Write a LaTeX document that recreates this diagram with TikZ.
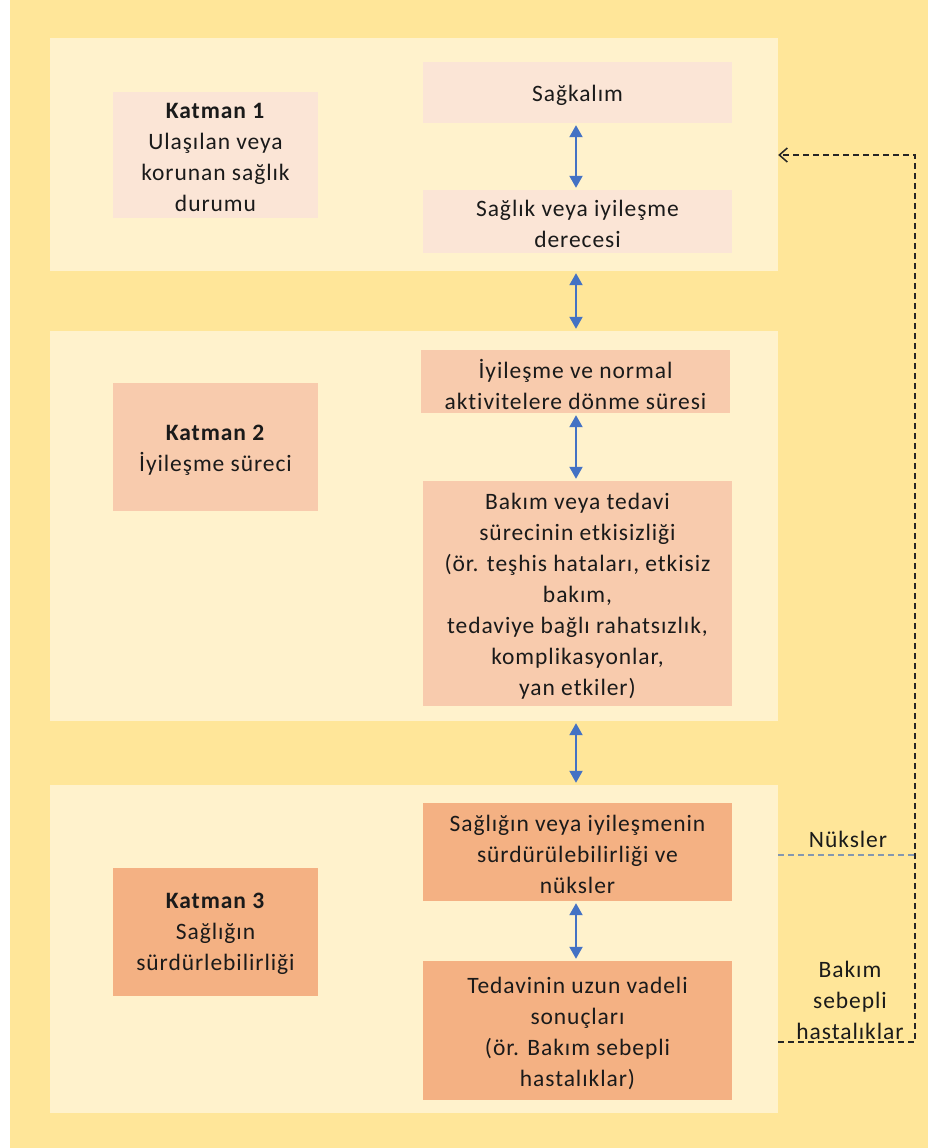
\documentclass[tikz,border=0pt]{standalone}
\usepackage{fontspec}
\setmainfont{Carlito}[LetterSpace=4,Ligatures=NoCommon]
\usetikzlibrary{arrows.meta}
\definecolor{bgyellow}{HTML}{FFE699}
\definecolor{panelc}{HTML}{FFF2CC}
\definecolor{pinkA}{HTML}{FBE5D6}
\definecolor{pinkB}{HTML}{F8CBAD}
\definecolor{pinkC}{HTML}{F4B183}
\definecolor{arrowblue}{HTML}{4472C4}
\definecolor{nukblue}{HTML}{8497B0}
\definecolor{txt}{HTML}{1A1A1A}
\begin{document}
\begin{tikzpicture}[x=1pt,y=-1pt,
  panel/.style={fill=panelc, draw=none, inner sep=0pt},
  box/.style={draw=none, inner sep=0pt, align=center, text=txt,
    font=\fontsize{23.5}{31}\selectfont},
  boxA/.style={box, fill=pinkA},
  boxB/.style={box, fill=pinkB},
  boxC/.style={box, fill=pinkC},
  lbl/.style={inner sep=0pt, align=center, text=txt, font=\fontsize{23.5}{31}\selectfont},
  dbl/.style={{Triangle[width=13pt,length=12pt]}-{Triangle[width=13pt,length=12pt]},
    draw=arrowblue, line width=2pt, shorten <=2pt, shorten >=2pt},
  dsh/.style={draw=black!85, line width=1.5pt, dash pattern=on 6pt off 4pt},
]
\useasboundingbox (0,0) rectangle (928,1148);
\fill[white] (0,0) rectangle (928,1148);
\fill[bgyellow] (10,0) rectangle (928,1148);

% panels
\node[panel, minimum width=728pt, minimum height=233pt] (p1) at (414,154.5) {};
\node[panel, minimum width=728pt, minimum height=390pt] (p2) at (414,526) {};
\node[panel, minimum width=728pt, minimum height=328pt] (p3) at (414,949) {};

% layer 1
\node[boxA, minimum width=205pt, minimum height=126pt] (k1) at (215.5,155) {};
\node[box] (k1t) at (215.5,157) {\textbf{Katman 1}\\Ulaşılan veya\\korunan  sağlık\\durumu};
\node[boxA, minimum width=309pt, minimum height=61pt] (s1) at (577.5,92.5) {};
\node[box] (s1t) at (577.5,95) {Sağkalım};
\node[boxA, minimum width=309pt, minimum height=63pt] (s2) at (577.5,221.5) {};
\node[box] (s2t) at (577.5,224) {Sağlık veya iyileşme\\derecesi};

% layer 2
\node[boxB, minimum width=205pt, minimum height=128pt] (k2) at (215.5,447) {};
\node[box] (k2t) at (215.5,450) {\textbf{Katman 2}\\İyileşme süreci};
\node[boxB, minimum width=309pt, minimum height=63pt] (s3) at (575.5,381.5) {};
\node[box] (s3t) at (575.5,384) {İyileşme ve normal\\aktivitelere dönme süresi};
\node[boxB, minimum width=309pt, minimum height=225pt] (s4) at (577.5,593.5) {};
\node[box] (s4t) at (577.5,596) {Bakım veya tedavi\\sürecinin etkisizliği\\(ör. teşhis hataları, etkisiz\\bakım,\\tedaviye bağlı rahatsızlık,\\komplikasyonlar,\\yan etkiler)};

% layer 3
\node[boxC, minimum width=205pt, minimum height=128pt] (k3) at (215.5,932) {};
\node[box] (k3t) at (215.5,934) {\textbf{Katman 3}\\Sağlığın\\sürdürlebilirliği};
\node[boxC, minimum width=309pt, minimum height=98pt] (s5) at (577.5,852) {};
\node[box] (s5t) at (577.5,854) {Sağlığın veya iyileşmenin\\sürdürülebilirliği ve\\nüksler};
\node[boxC, minimum width=309pt, minimum height=139pt] (s6) at (577.5,1030.5) {};
\node[box] (s6t) at (577.5,1033) {Tedavinin uzun vadeli\\sonuçları\\(ör. Bakım sebepli\\hastalıklar)};

% blue double arrows
\draw[dbl] (s1.south -| 576,0) -- (s2.north -| 576,0);
\draw[dbl] (p1.south -| 576,0) -- (p2.north -| 576,0);
\draw[dbl] (s3.south -| 576,0) -- (s4.north -| 576,0);
\draw[dbl] (p2.south -| 576,0) -- (p3.north -| 576,0);
\draw[dbl] (s5.south -| 576,0) -- (s6.north -| 576,0);

% feedback loop
\coordinate (fbot) at (915,1042);
\coordinate (ftop) at (915,155);
\coordinate (nuk) at (915,855);
\draw[dsh, -{Straight Barb[width=14pt,length=8pt,line width=1.5pt]}]
  (p3.east |- fbot) -- (fbot) -- (ftop) -- (p1.east |- ftop);
\draw[draw=nukblue, line width=1.5pt, dash pattern=on 6pt off 4pt] (p3.east |- nuk) -- (nuk);

\node[lbl] (lnuk) at (848,839) {Nüksler};
\node[lbl] (lbak) at (850,1000) {Bakım\\sebepli\\hastalıklar};
\end{tikzpicture}
\end{document}
